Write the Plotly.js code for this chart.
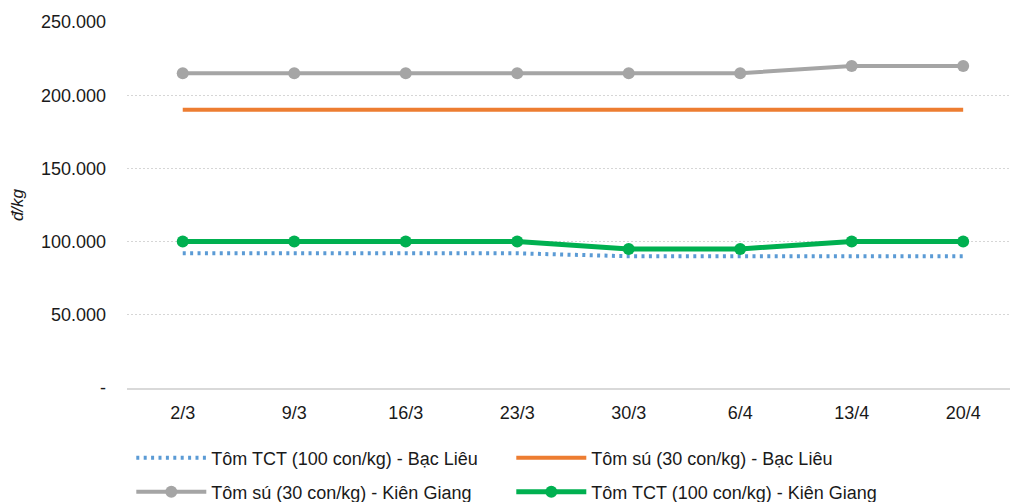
<!DOCTYPE html>
<html>
<head>
<meta charset="utf-8">
<script src="https://cdn.plot.ly/plotly-3.0.1.min.js"></script>
<style>html,body{margin:0;padding:0;background:#fff;}#chart{width:1010px;height:502px;}</style>
</head>
<body>
<div id="chart"></div>
<script>
const categories = ["2/3","9/3","16/3","23/3","30/3","6/4","13/4","20/4"];
const tctBacLieu = [92000,92000,92000,92000,90000,90000,90000,90000];
const suBacLieu = [190000,190000,190000,190000,190000,190000,190000,190000];
const suKienGiang = [215000,215000,215000,215000,215000,215000,220000,220000];
const tctKienGiang = [100000,100000,100000,100000,95000,95000,100000,100000];
const seriesNames = ["Tôm TCT (100 con/kg) - Bạc Liêu","Tôm sú (30 con/kg) - Bạc Liêu","Tôm sú (30 con/kg) - Kiên Giang","Tôm TCT (100 con/kg) - Kiên Giang"];
const yTickVals = [0,50000,100000,150000,200000,250000];
const yTickText = ["-","50.000","100.000","150.000","200.000","250.000"];

const traces = [
  {x: categories, y: tctBacLieu, name: seriesNames[0], type: 'scatter', mode: 'lines', legend: 'legend',
   line: {color: '#5b9bd5', width: 4, dash: '3px,4.4px'}},
  {x: categories, y: suBacLieu, name: seriesNames[1], type: 'scatter', mode: 'lines', legend: 'legend',
   line: {color: '#ed7d31', width: 4}},
  {x: categories, y: suKienGiang, name: seriesNames[2], type: 'scatter', mode: 'lines+markers', legend: 'legend2',
   line: {color: '#a5a5a5', width: 4}, marker: {color: '#a5a5a5', size: 12}},
  {x: categories, y: tctKienGiang, name: seriesNames[3], type: 'scatter', mode: 'lines+markers', legend: 'legend2',
   line: {color: '#00b050', width: 5}, marker: {color: '#00b050', size: 12}}
];

const legendBase = {
  orientation: 'h', xref: 'container', yref: 'container', x: 0.13, xanchor: 'left', yanchor: 'middle',
  entrywidth: 295, font: {size: 18, color: '#1a1a1a'}, itemwidth: 70, bgcolor: 'rgba(0,0,0,0)'
};

const layout = {
  width: 1010, height: 502,
  margin: {l: 127, r: 0, t: 22, b: 114, autoexpand: false},
  paper_bgcolor: '#fff', plot_bgcolor: '#fff',
  font: {family: 'Liberation Sans, Arial, sans-serif', size: 18, color: '#1a1a1a'},
  showlegend: true,
  hovermode: false,
  xaxis: {
    type: 'category', range: [-0.5, 7.42],
    showgrid: false, zeroline: false,
    showline: true, linecolor: '#d9d9d9', linewidth: 2,
    ticks: '', ticklabelstandoff: 7,
    tickfont: {size: 18, color: '#1a1a1a'}
  },
  yaxis: {
    range: [0, 250000], tickvals: yTickVals, ticktext: yTickText,
    showgrid: true, gridcolor: '#d6d6d6', gridwidth: 1, griddash: '2px,2px',
    zeroline: false, showline: false, ticks: '', ticklabelstandoff: 20,
    tickfont: {size: 18, color: '#1a1a1a'},
    title: {text: 'đ/kg', font: {size: 17, color: '#1a1a1a', style: 'italic'}, standoff: 12}
  },
  legend: Object.assign({}, legendBase, {y: 1 - 458/502}),
  legend2: Object.assign({}, legendBase, {y: 1 - 492/502})
};

Plotly.newPlot('chart', traces, layout, {staticPlot: true});
</script>
</body>
</html>
